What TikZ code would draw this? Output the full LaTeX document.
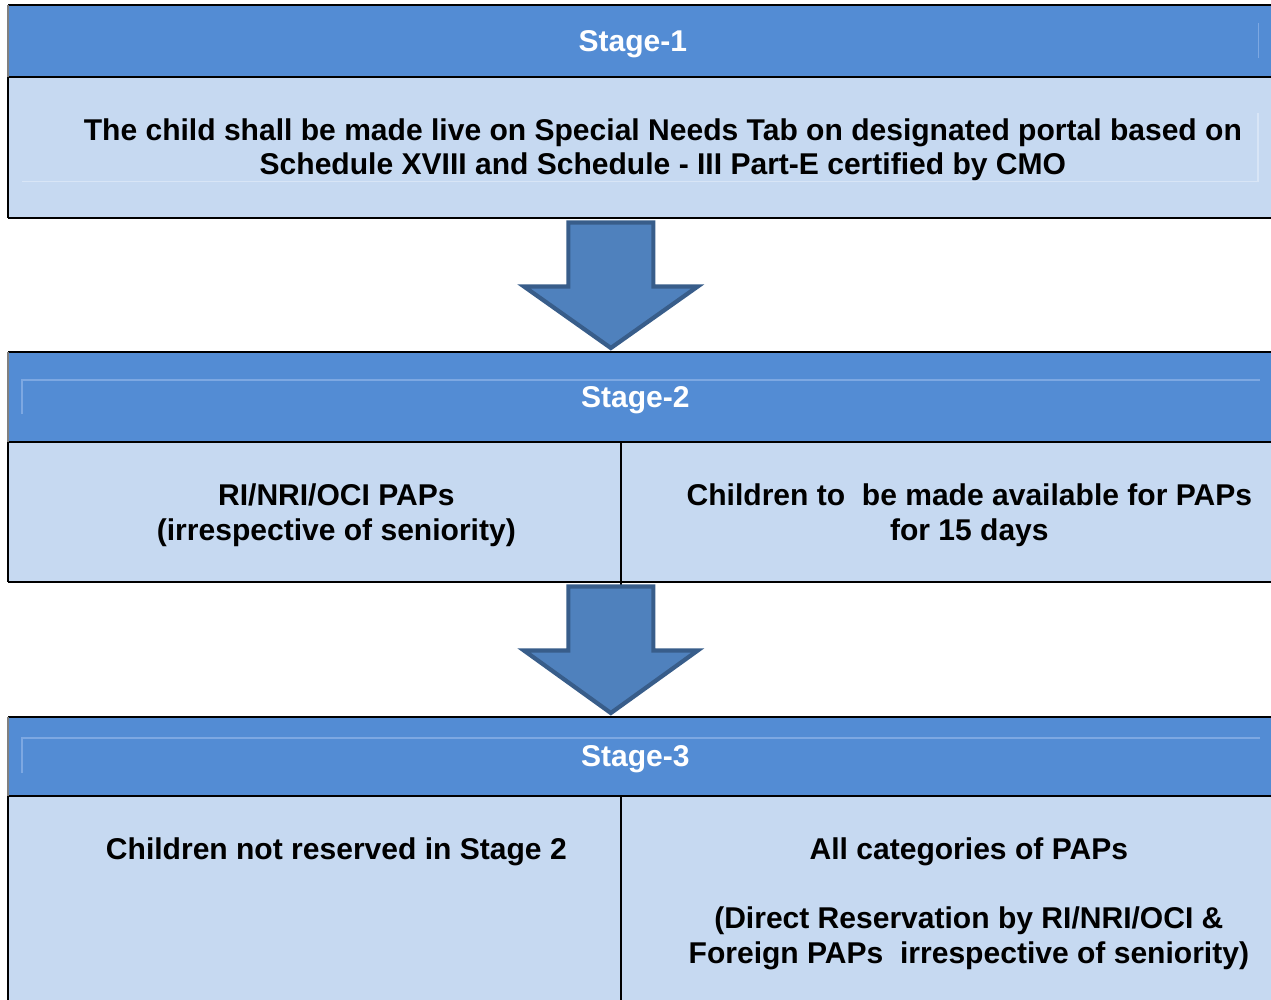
\documentclass[tikz,border=0pt]{standalone}
\usepackage{fontspec}
\setmainfont{Liberation Sans}
\usepackage{xcolor}
\usetikzlibrary{positioning, calc}

\definecolor{headblue}{RGB}{83,140,212}
\definecolor{bodyblue}{RGB}{198,217,241}
\definecolor{arrowfill}{RGB}{79,129,189}
\definecolor{arrowline}{RGB}{56,93,138}
\definecolor{headline}{RGB}{125,168,226}
\definecolor{bodyline}{RGB}{216,229,246}
\newcommand{\px}{0.02cm}

\begin{document}
\begin{tikzpicture}[
    x=\px, y=-\px,
    headbox/.style={fill=headblue, minimum width=1263*\px, inner sep=0},
    bodybox/.style={fill=bodyblue, inner sep=0},
    headtext/.style={text=white, inner sep=0, font=\fontsize{17.1}{19.6}\selectfont\bfseries},
    celltext/.style={align=center, inner sep=0, font=\fontsize{17.1}{19.6}\selectfont\bfseries},
    rule/.style={black, line width=1.1pt},
    sideline/.style={black, line width=0.8pt},
    greyline/.style={gray, line width=0.7pt},
    faint/.style={line width=0.6pt},
    blockarrow/.style={fill=arrowfill, draw=arrowline, line width=2.4pt, line join=miter}
]
\useasboundingbox (0,0) rectangle (1271,1000);

% Stage 1
\node[headbox, minimum height=71*\px, anchor=north west] (s1head) at (8,5) {};
\node[bodybox, minimum width=1263*\px, minimum height=141*\px, below=0pt of s1head] (s1body) {};
\node[headtext] (s1title) at ($(s1head.center)+(-7,3)$) {Stage-1};
\node[celltext] (s1text) at ($(s1body.center)+(23,2)$)
    {The child shall be made live on Special Needs Tab on designated portal based on\\
     Schedule XVIII and Schedule - III Part-E certified by CMO};

% Stage 2
\node[headbox, minimum height=89*\px, anchor=north west] (s2head) at (8,352) {};
\node[bodybox, minimum width=612*\px, minimum height=140*\px, anchor=north west] (s2left) at (s2head.south west) {};
\node[bodybox, minimum width=651*\px, minimum height=140*\px, anchor=north east] (s2right) at (s2head.south east) {};
\node[headtext] (s2title) at ($(s2head.center)+(-4.5,3)$) {Stage-2};
\node[celltext] (s2ltext) at ($(s2left.center)+(22,3)$) {RI/NRI/OCI PAPs\\(irrespective of seniority)};
\node[celltext] (s2rtext) at ($(s2right.center)+(23.5,3)$) {Children to~ be made available for PAPs\\for 15 days};

% Stage 3
\node[headbox, minimum height=78*\px, anchor=north west] (s3head) at (8,717) {};
\node[bodybox, minimum width=612*\px, minimum height=205*\px, anchor=north west] (s3left) at (s3head.south west) {};
\node[bodybox, minimum width=651*\px, minimum height=205*\px, anchor=north east] (s3right) at (s3head.south east) {};
\node[headtext] (s3title) at ($(s3head.center)+(-4.5,3)$) {Stage-3};
\node[celltext, anchor=north] (s3ltext) at ($(s3left.north)+(22,42)$) {Children not reserved in Stage 2};
\node[celltext, anchor=north] (s3rtext) at ($(s3right.north)+(23,42)$)
    {All categories of PAPs\\[19.6pt]
     (Direct Reservation by RI/NRI/OCI \&\\
     Foreign PAPs~ irrespective of seniority)};

% faint inner lines
\draw[faint, headline] ($(s1head.north east)+(-13,18)$) -- ++(0,35);
\draw[faint, bodyline] ($(s1body.north west)+(14,105)$) -- ++(1236,0) -- ++(0,-69);
\draw[faint, headline] ($(s2head.north west)+(14,62)$) -- ++(0,-34) -- ++(1238,0);
\draw[faint, headline] ($(s3head.north west)+(14,56)$) -- ++(0,-35) -- ++(1238,0);

% borders
\foreach \n in {s1head, s2head, s3head} {
  \draw[rule] (\n.north west) -- (\n.north east);
  \draw[rule] (\n.south west) -- (\n.south east);
  \draw[greyline] (\n.north west) -- (\n.south west);
}
\draw[sideline] (s1body.north west) -- (s1body.south west);
\draw[rule] (s1body.south west) -- (s1body.south east);
\draw[sideline] (s2left.north west) -- (s2left.south west);
\draw[rule] (s2left.south west) -- (s2right.south east);
\draw[rule] (s2left.north east) -- ($(s2left.south east)+(0,3)$);
\draw[sideline] (s3left.north west) -- (s3left.south west);
\draw[rule] (s3left.north east) -- (s3left.south east);

% block arrows between stages
\foreach \src/\dst in {s1body/s2head, s2left/s3head} {
  \path (\dst.north) ++(-29,-4) coordinate (tip);
  \path (tip |- \src.south) ++(0,4) coordinate (top);
  \draw[blockarrow] ($(top)+(-42.5,0)$) -- ($(top)+(42.5,0)$) -- ($(top)+(42.5,64)$)
    -- ($(top)+(87,64)$) -- (tip) -- ($(top)+(-87,64)$) -- ($(top)+(-42.5,64)$) -- cycle;
}
\end{tikzpicture}
\end{document}
